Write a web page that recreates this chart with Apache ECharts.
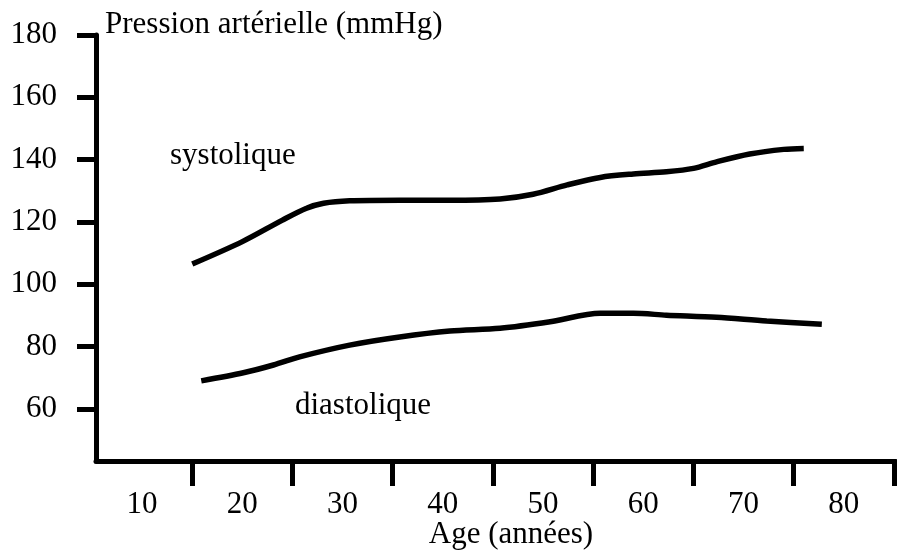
<!DOCTYPE html>
<html>
<head>
<meta charset="utf-8">
<script src="https://cdn.jsdelivr.net/npm/echarts@6/dist/echarts.min.js"></script>
<style>
  html, body { margin: 0; padding: 0; background: #fff; }
  #chart { width: 897px; height: 552px; }
</style>
</head>
<body>
<div id="chart"></div>
<script>
// Blood pressure by age (mmHg)
const sysAges   = [15, 20, 24, 26.4, 28.1, 30.7, 35.7, 40.7, 45.7, 49, 52.4, 55.7, 59, 62.3, 65, 67.3, 70.6, 74, 76];
const sysValues = [106.5, 113.7, 120.6, 124.4, 126.0, 126.8, 127.0, 127.0, 127.4, 128.9, 131.9, 134.3, 135.4, 136.1, 137.2, 139.3, 141.8, 143.3, 143.6];

const diaAges   = [15.9, 20.1, 23.1, 25.8, 30.7, 35.7, 40.7, 45.7, 50.7, 55.7, 59, 62.3, 67.3, 72.3, 77.8];
const diaValues = [69.0, 71.6, 74.1, 76.8, 80.5, 83.1, 85.0, 85.9, 88.0, 90.7, 90.7, 90.1, 89.4, 88.2, 87.2];

const xLabelValues = [10, 20, 30, 40, 50, 60, 70, 80];
const xTickValues  = [15, 25, 35, 45, 55, 65, 75, 85];
const yTickValues  = [60, 80, 100, 120, 140, 160, 180];

const FONT = "'Liberation Serif', 'Times New Roman', serif";

const pairs = (xs, ys) => xs.map((x, i) => [x, ys[i]]);

const chart = echarts.init(document.getElementById('chart'));

const lineStyle = { color: '#000', width: 5.5, cap: 'butt' };

chart.setOption({
  animation: false,
  backgroundColor: '#fff',
  grid: { left: 96, right: 1, top: 35, bottom: 91, outerBoundsMode: 'none', containLabel: false },
  xAxis: {
    type: 'value',
    min: 5.4,
    max: 85.2,
    name: 'Age (années)',
    nameLocation: 'middle',
    nameGap: 58,
    nameMoveOverlap: false,
    nameTextStyle: {
      fontFamily: FONT, fontSize: 31, color: '#000',
      align: 'center', verticalAlign: 'top', padding: [0, 0, 0, 30]
    },
    axisLine: { show: true, onZero: false, lineStyle: { color: '#000', width: 5 } },
    axisTick: {
      show: true, length: 25, inside: false,
      customValues: xTickValues,
      lineStyle: { color: '#000', width: 5 }
    },
    axisLabel: {
      customValues: xLabelValues,
      margin: 28,
      fontFamily: FONT, fontSize: 31, color: '#000',
      verticalAlign: 'top'
    },
    splitLine: { show: false }
  },
  yAxis: {
    type: 'value',
    min: 43.3,
    max: 180,
    name: 'Pression artérielle (mmHg)',
    nameLocation: 'end',
    nameGap: -5,
    nameMoveOverlap: false,
    nameTextStyle: {
      fontFamily: FONT, fontSize: 31, color: '#000',
      align: 'left', verticalAlign: 'bottom', padding: [0, 0, 0, 9]
    },
    axisLine: { show: true, onZero: false, lineStyle: { color: '#000', width: 5 } },
    axisTick: {
      show: true, length: 19, inside: false,
      customValues: yTickValues,
      lineStyle: { color: '#000', width: 5 }
    },
    axisLabel: {
      customValues: yTickValues,
      margin: 39,
      fontFamily: FONT, fontSize: 31, color: '#000'
    },
    splitLine: { show: false }
  },
  series: [
    {
      name: 'systolique',
      type: 'line',
      data: pairs(sysAges, sysValues),
      smooth: 0.3,
      showSymbol: false,
      lineStyle: lineStyle
    },
    {
      name: 'diastolique',
      type: 'line',
      data: pairs(diaAges, diaValues),
      smooth: 0.3,
      showSymbol: false,
      lineStyle: lineStyle
    }
  ],
  graphic: [
    {
      type: 'text', left: 170, top: 140,
      style: { text: 'systolique', font: '31px ' + FONT, fill: '#000' }
    },
    {
      type: 'text', left: 295, top: 390,
      style: { text: 'diastolique', font: '31px ' + FONT, fill: '#000' }
    }
  ]
});
</script>
</body>
</html>
